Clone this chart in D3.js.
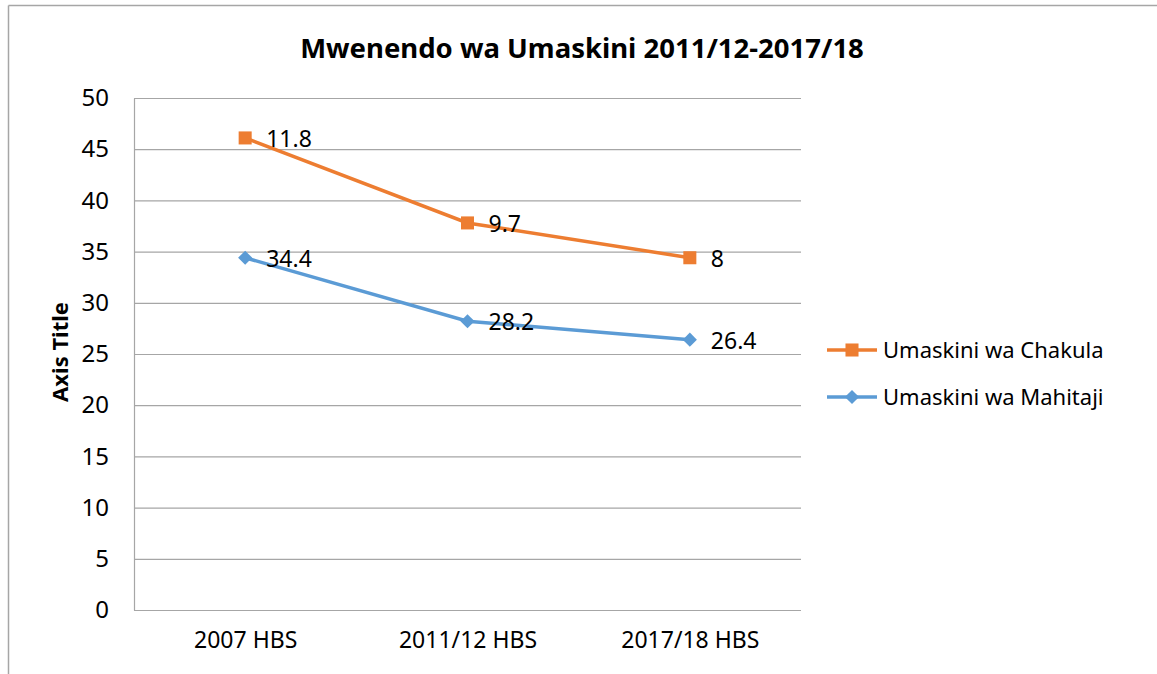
<!DOCTYPE html>
<html>
<head>
<meta charset="utf-8">
<script src="https://cdn.jsdelivr.net/npm/d3@7"></script>
<style>
  body { margin: 0; background: #fff; }
  svg { font-family: "Noto Sans", "Open Sans", sans-serif; }
</style>
</head>
<body>
<svg id="mainsvg" width="1157" height="674"></svg>
<script>
const categories = ['2007 HBS', '2011/12 HBS', '2017/18 HBS'];
const seriesNames = ['Umaskini wa Chakula', 'Umaskini wa Mahitaji'];
const chakulaValues = [46.1, 37.8, 34.4];
const chakulaLabels = ['11.8', '9.7', '8'];
const mahitajiValues = [34.4, 28.2, 26.4];
const mahitajiLabels = ['34.4', '28.2', '26.4'];
const yTicks = [0, 5, 10, 15, 20, 25, 30, 35, 40, 45, 50];

const svg = d3.select('#mainsvg');
const width = +svg.attr('width');
const height = +svg.attr('height');
const margin = { top: 98, right: 356, bottom: 64, left: 134 };
const innerWidth = width - margin.left - margin.right;
const innerHeight = height - margin.top - margin.bottom;

const gridColor = '#a6a6a6';
const colors = ['#ed7d31', '#5b9bd5'];

// outer chart frame (only top and left edges visible)
svg.append('line').attr('x1', 8.5).attr('x2', width).attr('y1', 5.5).attr('y2', 5.5)
    .attr('stroke', gridColor).attr('stroke-width', 1.5);
svg.append('line').attr('x1', 8.5).attr('x2', 8.5).attr('y1', 5.5).attr('y2', height)
    .attr('stroke', gridColor).attr('stroke-width', 1.5);

const xScale = d3.scalePoint()
    .domain(categories)
    .range([0, innerWidth])
    .padding(0.5);

const yScale = d3.scaleLinear()
    .domain([0, 50])
    .range([innerHeight, 0]);

const g = svg.append('g')
    .attr('transform', `translate(${margin.left}, ${margin.top})`);

// gridlines
g.append('g')
    .call(d3.axisLeft(yScale).tickValues(yTicks).tickSize(-innerWidth).tickFormat(''))
    .call(s => s.select('.domain').remove())
    .call(s => s.selectAll('.tick line').attr('stroke', gridColor).attr('stroke-width', 1.2));

// y axis
const yAxis = g.append('g')
    .call(d3.axisLeft(yScale).tickValues(yTicks).tickSize(0).tickPadding(25));
yAxis.select('.domain').attr('stroke', gridColor).attr('stroke-width', 1.2);
yAxis.selectAll('.tick text').attr('font-size', '24px').attr('fill', '#000')
    .attr('font-family', '"Noto Sans", sans-serif');

// x axis
const xAxis = g.append('g')
    .attr('transform', `translate(0, ${innerHeight})`)
    .call(d3.axisBottom(xScale).tickSize(0).tickPadding(22));
xAxis.select('.domain').remove();
xAxis.selectAll('.tick text').attr('font-size', '23px').attr('fill', '#000')
    .attr('font-family', '"Noto Sans", sans-serif');

// title
svg.append('text').text('Mwenendo wa Umaskini 2011/12-2017/18')
    .attr('x', 582).attr('y', 58)
    .attr('text-anchor', 'middle')
    .attr('font-size', '27.5px').attr('font-weight', 'bold');

// y axis title
svg.append('text').text('Axis Title')
    .attr('transform', `translate(68, ${margin.top + innerHeight / 2 - 2}) rotate(-90)`)
    .attr('text-anchor', 'middle')
    .attr('font-size', '22px').attr('font-weight', 'bold');

const series = [
    { name: seriesNames[0], values: chakulaValues, labels: chakulaLabels, color: colors[0], shape: d3.symbolSquare, size: 170, rot: 0 },
    { name: seriesNames[1], values: mahitajiValues, labels: mahitajiLabels, color: colors[1], shape: d3.symbolSquare, size: 100, rot: 45 }
];

const line = d3.line()
    .x((d, i) => xScale(categories[i]))
    .y(d => yScale(d));

series.forEach(s => {
    g.append('path')
        .datum(s.values)
        .attr('d', line)
        .attr('fill', 'none')
        .attr('stroke', s.color)
        .attr('stroke-width', 3.5);

    s.values.forEach((v, i) => {
        g.append('path')
            .attr('d', d3.symbol().type(s.shape).size(s.size)())
            .attr('transform', `translate(${xScale(categories[i])}, ${yScale(v)}) rotate(${s.rot})`)
            .attr('fill', s.color);

        g.append('text').text(s.labels[i])
            .attr('x', xScale(categories[i]) + 21)
            .attr('y', yScale(v) + 9)
            .attr('font-size', '23px')
            .attr('fill', '#000');
    });
});

// legend
const legend = svg.append('g').attr('transform', 'translate(827, 350)');
series.forEach((s, i) => {
    const lg = legend.append('g').attr('transform', `translate(0, ${i * 47})`);
    lg.append('line').attr('x1', 0).attr('x2', 50).attr('y1', 0).attr('y2', 0)
        .attr('stroke', s.color).attr('stroke-width', 3.5);
    lg.append('path')
        .attr('d', d3.symbol().type(s.shape).size(s.size)())
        .attr('transform', `translate(25, 0) rotate(${s.rot})`)
        .attr('fill', s.color);
    lg.append('text').text(s.name)
        .attr('x', 56).attr('y', 8)
        .attr('font-size', '22px')
        .attr('fill', '#000');
});
</script>
</body>
</html>
